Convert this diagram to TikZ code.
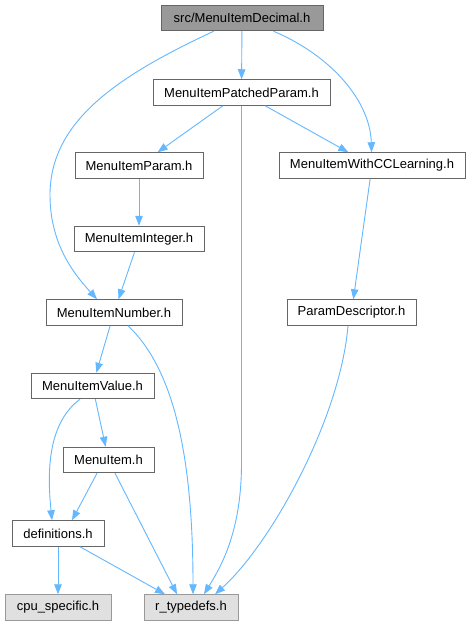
\documentclass[tikz,border=0pt]{standalone}
\usepackage{fontspec}
\setmainfont{Liberation Sans}
\usetikzlibrary{arrows.meta}
\definecolor{edgeblue}{HTML}{63B8FF}
\definecolor{boxborder}{HTML}{666666}
\definecolor{mainfill}{HTML}{999999}
\definecolor{extfill}{HTML}{E0E0E0}
\definecolor{extborder}{HTML}{999999}
\tikzset{
  filebox/.style={draw=boxborder, fill=white, line width=1pt, minimum height=25.5pt, inner sep=0pt, font=\fontsize{13}{15}\selectfont, text=black},
  mainbox/.style={filebox, fill=mainfill},
  extbox/.style={filebox, draw=extborder, fill=extfill},
  dep/.style={draw=edgeblue, line width=0.9pt, -{Triangle[length=10pt,width=7.5pt]}, fill=none},
}
\begin{document}
\begin{tikzpicture}[x=1pt,y=-1pt]
\useasboundingbox[fill=white] (0,0) rectangle (471,626);
\node[mainbox, minimum width=162pt] (dec) at (242,18) {src/MenuItemDecimal.h};
\node[filebox, minimum width=177pt] (pp) at (241.5,92.5) {MenuItemPatchedParam.h};
\node[filebox, minimum width=128pt] (param) at (139,165.5) {MenuItemParam.h};
\node[filebox, minimum width=186pt] (cc) at (372,165.5) {MenuItemWithCCLearning.h};
\node[filebox, minimum width=130pt] (int) at (139,239) {MenuItemInteger.h};
\node[filebox, minimum width=136pt] (num) at (114,312.5) {MenuItemNumber.h};
\node[filebox, minimum width=129pt] (pd) at (351.5,312.5) {ParamDescriptor.h};
\node[filebox, minimum width=123pt] (val) at (92.5,386) {MenuItemValue.h};
\node[filebox, minimum width=91pt] (mi) at (108.5,460) {MenuItem.h};
\node[filebox, minimum width=92pt] (def) at (58,533.5) {definitions.h};
\node[extbox, minimum width=106pt] (cpu) at (58,607.5) {cpu\_specific.h};
\node[extbox, minimum width=94pt] (rt) at (191,607.5) {r\_typedefs.h};

\coordinate (leftbend) at (50,195);
\coordinate (ppbend) at (241.5,463);

\draw[dep] (dec) -- (pp);
\draw[dep] (dec) .. controls (120,75) and (50,120) .. (leftbend) .. controls (50,245) and (75,275) .. ([xshift=-17pt]num.north);
\draw[dep] (dec) .. controls (330,55) and (370,100) .. (cc);
\draw[dep] (pp) -- (param);
\draw[dep] (pp) -- (cc);
\draw[dep] (pp.south) -- (ppbend) .. controls (241.5,530) and (222,565) .. ([xshift=13pt]rt.north);
\draw[dep] (param) -- (int);
\draw[dep] (int) -- (num);
\draw[dep] (cc) -- (pd);
\draw[dep] (pd.south) ++(-3.5,0) .. controls (340,420) and (270,545) .. ([xshift=24pt]rt.north);
\draw[dep] (num) -- (val);
\draw[dep] ([xshift=14pt]num.south) .. controls (175,370) and (193,460) .. ([xshift=2pt]rt.north);
\draw[dep] (val) -- (mi);
\draw[dep] ([xshift=-12.5pt]val.south) .. controls (45,425) and (48,480) .. ([xshift=-6pt]def.north);
\draw[dep] ([xshift=-11.5pt]mi.south) -- ([xshift=14pt]def.north);
\draw[dep] ([xshift=6.5pt]mi.south) -- ([xshift=-14pt]rt.north);
\draw[dep] (def) -- (cpu);
\draw[dep] ([xshift=22pt]def.south) -- ([xshift=-26pt]rt.north);
\end{tikzpicture}
\end{document}
